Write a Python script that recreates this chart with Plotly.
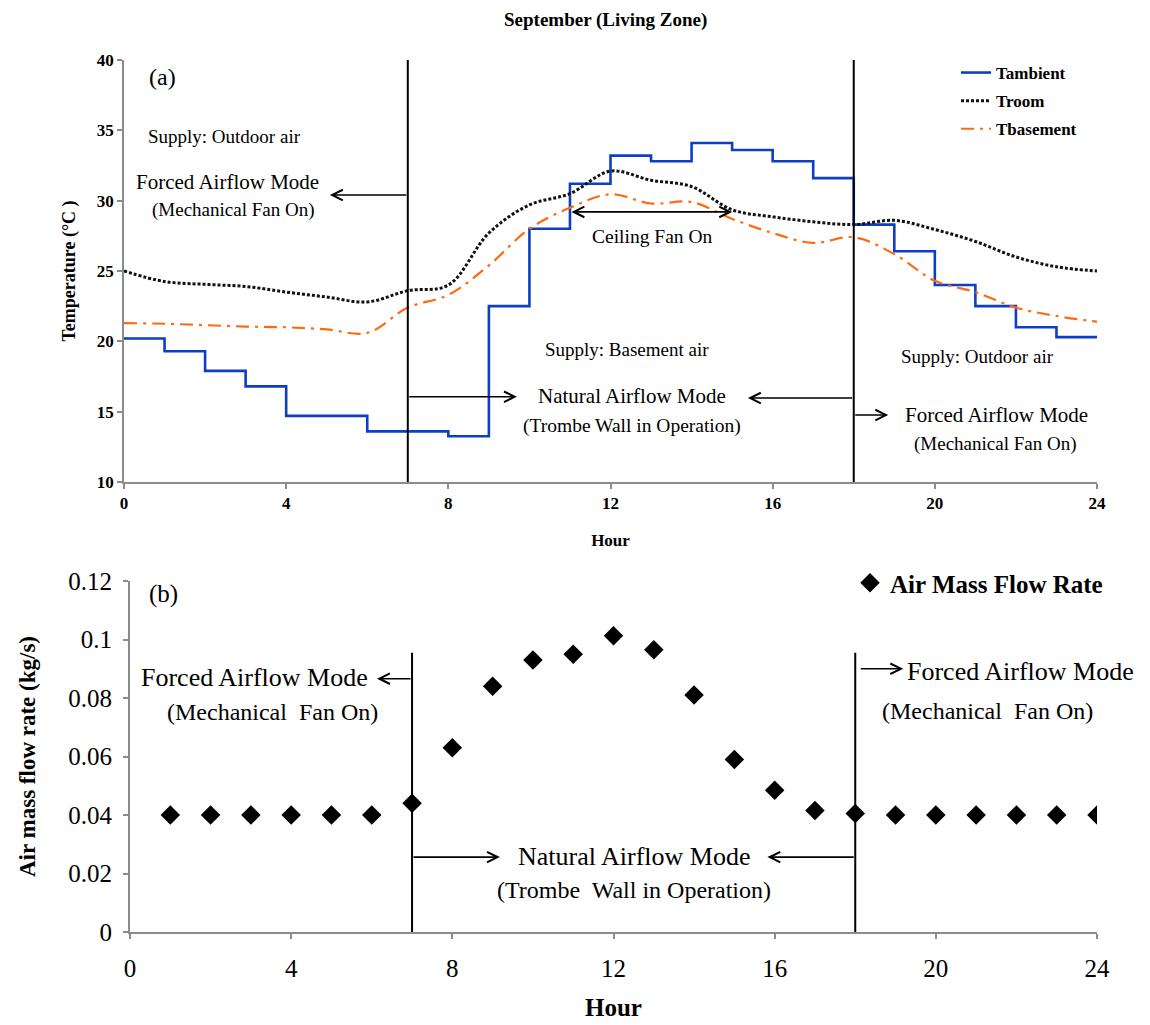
import plotly.graph_objects as go

# ---------------- data ----------------
hours = list(range(25))
t_ambient = [20.2, 19.3, 17.9, 16.8, 14.7, 14.7, 13.6, 13.6, 13.25, 22.5, 28.0, 31.2,
             33.2, 32.8, 34.1, 33.6, 32.8, 31.6, 28.3, 26.4, 24.0, 22.5, 21.0, 20.3, 20.3]
t_room = [25.0, 24.25, 24.05, 23.9, 23.5, 23.15, 22.8, 23.6, 24.0, 27.7, 29.7, 30.5,
          32.1, 31.45, 31.0, 29.35, 28.85, 28.5, 28.3, 28.6, 27.95, 27.1, 26.0, 25.3, 25.0]
t_basement = [21.3, 21.25, 21.15, 21.05, 21.0, 20.85, 20.6, 22.4, 23.3, 25.4, 28.0, 29.5,
              30.45, 29.8, 29.9, 28.7, 27.7, 27.0, 27.4, 26.2, 24.3, 23.5, 22.4, 21.8, 21.4]

flow_hours = list(range(1, 25))
flow_rate = [0.04, 0.04, 0.04, 0.04, 0.04, 0.04, 0.044, 0.063, 0.084, 0.093, 0.095, 0.1013,
             0.0965, 0.081, 0.059, 0.0485, 0.0415, 0.0405, 0.04, 0.04, 0.04, 0.04, 0.04, 0.04]

mode_switch_hours = [7, 18]
hour_ticks = [0, 4, 8, 12, 16, 20, 24]
temp_ticks = [10, 15, 20, 25, 30, 35, 40]
flow_ticks = [0, 0.02, 0.04, 0.06, 0.08, 0.1, 0.12]
flow_tick_text = ["0", "0.02", "0.04", "0.06", "0.08", "0.1", "0.12"]

SERIF = "Liberation Serif"
AX = "#8c8c8c"
W, H, OFF = 1150, 1025, 8   # page offset of the plot div (body margin)


def fx(px):
    return (px - OFF) / W


def fy(py):
    return 1 - (py - OFF) / H


fig = go.Figure()

fig.add_trace(go.Scatter(x=hours, y=t_ambient, name="Tambient", mode="lines",
                         line=dict(color="#0d3fc4", width=2.6, shape="hv"),
                         xaxis="x", yaxis="y", legend="legend", legendgroup="a"))
fig.add_trace(go.Scatter(x=hours, y=t_room, name="Troom", mode="lines",
                         line=dict(color="#111111", width=3, shape="spline", dash="3px,2px"),
                         xaxis="x", yaxis="y", legend="legend", legendgroup="b"))
fig.add_trace(go.Scatter(x=hours, y=t_basement, name="Tbasement", mode="lines",
                         line=dict(color="#ff6a10", width=2.2, shape="spline",
                                   dash="13px,6px,3px,6px"),
                         xaxis="x", yaxis="y", legend="legend", legendgroup="c"))
fig.add_trace(go.Scatter(x=flow_hours, y=flow_rate, name="Air Mass Flow Rate", mode="markers",
                         marker=dict(symbol="diamond", size=15, color="black"),
                         xaxis="x2", yaxis="y2", legend="legend2"))

# vertical mode-switch lines
for h in mode_switch_hours:
    fig.add_shape(type="line", xref="x", yref="y", x0=h, x1=h, y0=10, y1=40.5,
                  line=dict(color="black", width=2))
    fig.add_shape(type="line", xref="x2", yref="y2", x0=h, x1=h, y0=0, y1=0.0955,
                  line=dict(color="black", width=2))

anns = []


def txt(x, y, s, size, xr="x", yr="y", bold=False):
    anns.append(dict(x=x, y=y, xref=xr, yref=yr, text=("<b>%s</b>" % s) if bold else s,
                     showarrow=False, font=dict(family=SERIF, size=size, color="black"),
                     xanchor="center", yanchor="middle"))


def arrow(x_tail, x_head, y, xr="x", yr="y", both=False):
    anns.append(dict(x=x_head, y=y, ax=x_tail, ay=y, xref=xr, yref=yr, axref=xr, ayref=yr,
                     text="", showarrow=True, arrowhead=5, arrowsize=1.3, arrowwidth=1.6,
                     arrowcolor="black", arrowside="end+start" if both else "end",
                     startarrowhead=5, startarrowsize=1.3, standoff=0, startstandoff=0))


# ---- panel (a) ----
txt(0.94, 38.78, "(a)", 24)
txt(2.49, 34.54, "Supply: Outdoor air", 19)
txt(2.56, 31.34, "Forced Airflow Mode", 21)
txt(2.69, 29.33, "(Mechanical Fan On)", 19)
arrow(7, 5.08, 30.4)
txt(13.03, 27.43, "Ceiling Fan On", 19.5)
arrow(11.0, 15.0, 29.2, both=True)
txt(12.40, 19.45, "Supply: Basement air", 19)
txt(12.53, 16.11, "Natural Airflow Mode", 21)
txt(12.53, 13.98, "(Trombe Wall in Operation)", 19.5)
arrow(7, 9.69, 16.06)
arrow(18, 15.39, 15.97)
txt(21.06, 18.9, "Supply: Outdoor air", 19)
arrow(18, 18.85, 14.76)
txt(21.52, 14.76, "Forced Airflow Mode", 21)
txt(21.50, 12.70, "(Mechanical Fan On)", 19)

# ---- panel (b) ----
txt(0.82, 0.1157, "(b)", 25, "x2", "y2")
txt(3.08, 0.0869, "Forced Airflow Mode", 26, "x2", "y2")
txt(3.54, 0.0752, "(Mechanical  Fan On)", 24, "x2", "y2")
arrow(7, 6.13, 0.0866, "x2", "y2")
arrow(7, 9.18, 0.0256, "x2", "y2")
txt(12.51, 0.0257, "Natural Airflow Mode", 26, "x2", "y2")
txt(12.50, 0.0143, "(Trombe  Wall in Operation)", 24, "x2", "y2")
arrow(18, 15.82, 0.0256, "x2", "y2")
arrow(18.1, 19.19, 0.0900, "x2", "y2")
txt(22.11, 0.0891, "Forced Airflow Mode", 26, "x2", "y2")
txt(21.27, 0.0754, "(Mechanical  Fan On)", 24, "x2", "y2")

# title
anns.append(dict(x=fx(605), y=fy(20), xref="paper", yref="paper",
                 text="<b>September (Living Zone)</b>", showarrow=False,
                 font=dict(family=SERIF, size=19, color="black"),
                 xanchor="center", yanchor="middle"))

axis_common = dict(showline=True, linecolor=AX, linewidth=1.8, ticks="outside", ticklen=5,
                   tickcolor=AX, tickwidth=1.5, showgrid=False, zeroline=False,
                   automargin=False)

fig.update_layout(
    width=W, height=H,
    margin=dict(l=0, r=0, t=0, b=0, autoexpand=False),
    paper_bgcolor="white", plot_bgcolor="white",
    font=dict(family=SERIF, color="black"),
    annotations=anns,
    xaxis=dict(domain=[fx(124), fx(1097)], anchor="y", range=[0, 24], tickvals=hour_ticks,
               tickfont=dict(family=SERIF, size=17, color="black", weight="bold"),
               title=dict(text="<b>Hour</b>", font=dict(family=SERIF, size=17), standoff=22),
               **axis_common),
    yaxis=dict(domain=[fy(482), fy(60)], anchor="x", range=[10, 40],
               tickvals=temp_ticks,
               tickfont=dict(family=SERIF, size=17, color="black", weight="bold"),
               title=dict(text="<b>Temperature (°C )</b>", font=dict(family=SERIF, size=18),
                          standoff=16),
               **axis_common),
    xaxis2=dict(domain=[fx(130), fx(1097)], anchor="y2", range=[0, 24],
                tickvals=hour_ticks,
                tickfont=dict(family=SERIF, size=25, color="black"),
                ticklabelstandoff=8,
                title=dict(text="<b>Hour</b>", font=dict(family=SERIF, size=25), standoff=18),
                **axis_common),
    yaxis2=dict(domain=[fy(932), fy(581)], anchor="x2", range=[0, 0.12],
                tickvals=flow_ticks, ticktext=flow_tick_text,
                tickfont=dict(family=SERIF, size=25, color="black"),
                ticklabelstandoff=6,
                title=dict(text="<b>Air mass flow rate (kg/s)</b>",
                           font=dict(family=SERIF, size=23), standoff=26),
                **axis_common),
    legend=dict(x=fx(956), y=fy(55), xanchor="left", yanchor="top",
                font=dict(family=SERIF, size=17, color="black", weight="bold"),
                bgcolor="rgba(0,0,0,0)", tracegroupgap=3, itemwidth=30),
    legend2=dict(x=fx(850), y=fy(560), xanchor="left", yanchor="top",
                 font=dict(family=SERIF, size=25, color="black", weight="bold"),
                 bgcolor="rgba(0,0,0,0)", itemwidth=30),
    showlegend=True,
)

fig.write_html("out.html")
